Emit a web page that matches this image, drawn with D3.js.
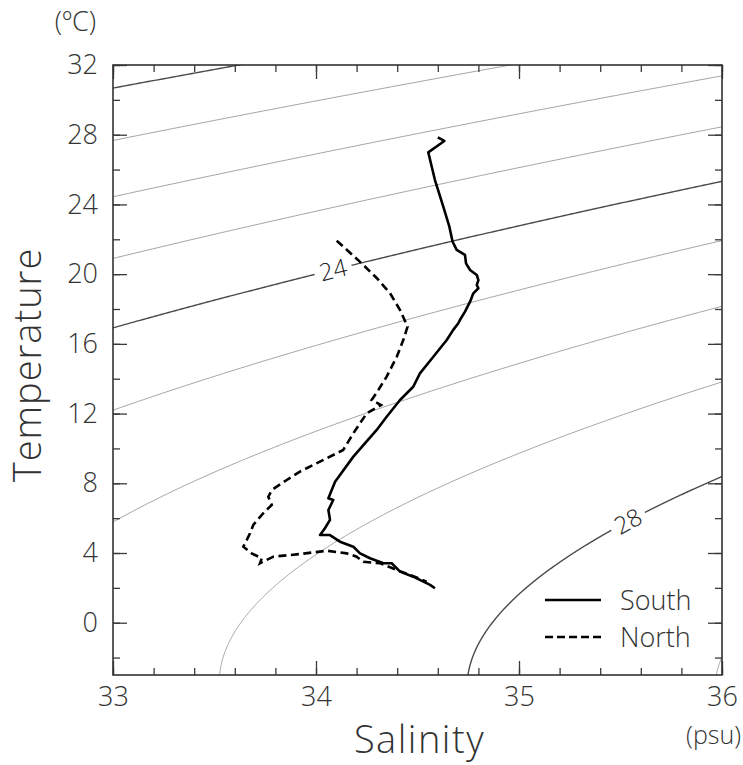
<!DOCTYPE html>
<html>
<head>
<meta charset="utf-8">
<script src="https://cdn.jsdelivr.net/npm/d3@7"></script>
<style>
	body { margin: 0; background: #fff; }
	text { font-family: 'DejaVu Sans ExtraLight', 'Open Sans', sans-serif; font-weight: 300; fill: #333; }
</style>
</head>
<body>
<svg id="chart" width="743" height="765"></svg>
<script>
// ------- DATA ------- //

// South station profile (surface -> deep)
const southSal = [34.600, 34.632, 34.553, 34.586, 34.627, 34.657, 34.673, 34.693, 34.734, 34.739,
	34.759, 34.792, 34.800, 34.792, 34.800, 34.775, 34.759, 34.734, 34.709, 34.701,
	34.676, 34.644, 34.578, 34.512, 34.479, 34.414, 34.348, 34.299, 34.184, 34.094,
	34.061, 34.085, 34.061, 34.069, 34.044, 34.020, 34.069, 34.118, 34.184, 34.217,
	34.266, 34.332, 34.373, 34.414, 34.479, 34.562, 34.586]
const southTemp = [27.85, 27.64, 26.99, 25.40, 23.87, 22.72, 21.86, 21.39, 21.10, 20.62,
	20.24, 19.95, 19.66, 19.38, 19.19, 18.90, 18.42, 17.85, 17.37, 17.18,
	16.80, 16.22, 15.26, 14.31, 13.54, 12.78, 11.82, 11.06, 9.53, 8.09,
	7.14, 7.04, 6.47, 5.90, 5.42, 5.03, 5.03, 4.65, 4.36, 3.98,
	3.70, 3.41, 3.41, 2.93, 2.64, 2.17, 1.98]

// North station profile (surface -> deep)
const northSal = [34.102, 34.225, 34.299, 34.365, 34.414, 34.451, 34.430, 34.398, 34.348, 34.307,
	34.274, 34.320, 34.250, 34.184, 34.134, 34.053, 33.921, 33.856, 33.783, 33.765,
	33.782, 33.740, 33.691, 33.675, 33.642, 33.683, 33.733, 33.724, 33.790, 33.921,
	34.053, 34.151, 34.200, 34.233, 34.315, 34.398, 34.463, 34.545]
const northTemp = [21.92, 20.62, 19.78, 18.90, 17.94, 16.99, 16.22, 15.26, 14.12, 13.35,
	12.78, 12.49, 12.02, 10.87, 9.91, 9.44, 8.67, 8.19, 7.62, 7.23,
	6.76, 6.28, 5.61, 5.13, 4.36, 3.98, 3.70, 3.41, 3.79, 3.94,
	4.13, 3.98, 3.79, 3.50, 3.41, 3.03, 2.74, 2.36]

// sigma-t isopycnals drawn in the background
const sigmaLevels = [20, 21, 22, 23, 24, 25, 26, 27, 28, 29]
const boldLevels = [20, 24, 28]
const labelLevels = [24, 28]
const labelSal = [34.084, 35.537]

const xTicks = [33, 34, 35, 36]
const xMinor = d3.range(33, 36.001, 0.2)
const yTicks = [0, 4, 8, 12, 16, 20, 24, 28, 32]
const yMinor = d3.range(-2, 32.001, 2)

// ------- LAYOUT ------- //

const margin = { left: 113, top: 65 }
const width = 609
const height = 610
const font = "'DejaVu Sans ExtraLight', 'Open Sans', sans-serif"

const svg = d3.select('#chart')

const x = d3.scaleLinear().domain([33, 36]).range([margin.left, margin.left + width])
const y = d3.scaleLinear().domain([-3, 32]).range([margin.top + height, margin.top])

// UNESCO 1980 equation of state at p = 0, returns sigma-t
function sigmaT (s, t) {
	const rw = 999.842594 + 6.793952e-2 * t - 9.095290e-3 * t * t + 1.001685e-4 * t ** 3
		- 1.120083e-6 * t ** 4 + 6.536332e-9 * t ** 5
	const a = 8.24493e-1 - 4.0899e-3 * t + 7.6438e-5 * t * t - 8.2467e-7 * t ** 3 + 5.3875e-9 * t ** 4
	const b = -5.72466e-3 + 1.0227e-4 * t - 1.6546e-6 * t * t
	const c = 4.8314e-4
	return rw + a * s + b * s ** 1.5 + c * s * s - 1000
}

// salinity where sigma-t equals level at temperature t (sigma grows with S)
function salinityAt (level, t) {
	let lo = 20, hi = 45
	for (let i = 0; i < 50; i++) {
		const mid = (lo + hi) / 2
		if (sigmaT(mid, t) < level) lo = mid
		else hi = mid
	}
	return (lo + hi) / 2
}

// temperature where sigma-t equals level at salinity s
function tempAt (level, s) {
	let lo = -3, hi = 40
	for (let i = 0; i < 50; i++) {
		const mid = (lo + hi) / 2
		if (sigmaT(s, mid) > level) lo = mid
		else hi = mid
	}
	return (lo + hi) / 2
}

svg.append('defs').append('clipPath')
	.attr('id', 'plot-clip')
	.append('rect')
	.attr('x', margin.left)
	.attr('y', margin.top)
	.attr('width', width)
	.attr('height', height)

const tSteps = d3.range(-3.5, 32.51, 0.05)
const line = d3.line().x(d => x(d[0])).y(d => y(d[1]))

const contours = svg.append('g').attr('clip-path', 'url(#plot-clip)')

contours.selectAll('path')
	.data(sigmaLevels)
	.enter().append('path')
	.attr('d', lev => line(tSteps.map(t => [salinityAt(lev, t), t])))
	.attr('fill', 'none')
	.attr('stroke', lev => boldLevels.includes(lev) ? '#4a4a4a' : '#9a9a9a')
	.attr('stroke-width', lev => boldLevels.includes(lev) ? 1.4 : 0.9)

// contour labels, with a white gap cut in the line
const labels = svg.append('g')
labelLevels.forEach((lev, i) => {
	const s = labelSal[i]
	const px = x(s), py = y(tempAt(lev, s))
	const dx = x(s + 0.02) - x(s - 0.02)
	const dy = y(tempAt(lev, s + 0.02)) - y(tempAt(lev, s - 0.02))
	const angle = Math.atan2(dy, dx) * 180 / Math.PI
	const g = labels.append('g').attr('transform', `translate(${px},${py}) rotate(${angle})`)
	g.append('rect')
		.attr('x', -19).attr('y', -10)
		.attr('width', 38).attr('height', 20)
		.attr('fill', '#fff')
	g.append('text')
		.attr('text-anchor', 'middle')
		.attr('dy', '0.36em')
		.style('font-size', '24px')
		.style('fill', '#222')
		.text(lev)
})

// ------- PROFILES ------- //

const profile = d3.line().x(d => x(d[0])).y(d => y(d[1]))

svg.append('path')
	.datum(southSal.map((s, i) => [s, southTemp[i]]))
	.attr('d', profile)
	.attr('fill', 'none')
	.attr('stroke', '#000')
	.attr('stroke-width', 2.6)
	.attr('stroke-linejoin', 'round')

svg.append('path')
	.datum(northSal.map((s, i) => [s, northTemp[i]]))
	.attr('d', profile)
	.attr('fill', 'none')
	.attr('stroke', '#000')
	.attr('stroke-width', 2.6)
	.attr('stroke-dasharray', '8,4.5')

// ------- AXES ------- //

function styleAxis (g) {
	g.select('.domain').remove()
	g.selectAll('line').attr('stroke', '#3a3a3a').attr('stroke-width', 1.3)
	g.selectAll('text').attr('fill', '#333').style('font-size', '27px')
		.style('font-family', font).style('font-weight', 300)
}

const bottom = margin.top + height
const right = margin.left + width

svg.append('g').attr('transform', `translate(0,${bottom})`)
	.call(d3.axisBottom(x).tickValues(xTicks).tickSize(-14).tickPadding(12).tickFormat(d3.format('d')))
	.call(styleAxis)
svg.append('g').attr('transform', `translate(0,${bottom})`)
	.call(d3.axisBottom(x).tickValues(xMinor).tickSize(-7).tickFormat(''))
	.call(styleAxis)
svg.append('g').attr('transform', `translate(0,${margin.top})`)
	.call(d3.axisTop(x).tickValues(xTicks).tickSize(-14).tickFormat(''))
	.call(styleAxis)
svg.append('g').attr('transform', `translate(0,${margin.top})`)
	.call(d3.axisTop(x).tickValues(xMinor).tickSize(-7).tickFormat(''))
	.call(styleAxis)

svg.append('g').attr('transform', `translate(${margin.left},0)`)
	.call(d3.axisLeft(y).tickValues(yTicks).tickSize(-14).tickPadding(15))
	.call(styleAxis)
svg.append('g').attr('transform', `translate(${margin.left},0)`)
	.call(d3.axisLeft(y).tickValues(yMinor).tickSize(-7).tickFormat(''))
	.call(styleAxis)
svg.append('g').attr('transform', `translate(${right},0)`)
	.call(d3.axisRight(y).tickValues(yTicks).tickSize(-14).tickFormat(''))
	.call(styleAxis)
svg.append('g').attr('transform', `translate(${right},0)`)
	.call(d3.axisRight(y).tickValues(yMinor).tickSize(-7).tickFormat(''))
	.call(styleAxis)

svg.append('rect')
	.attr('x', margin.left).attr('y', margin.top)
	.attr('width', width).attr('height', height)
	.attr('fill', 'none')
	.attr('stroke', '#333')
	.attr('stroke-width', 1.6)

// axis titles and units
svg.append('text')
	.attr('x', margin.left + width / 2 + 2).attr('y', 753)
	.attr('text-anchor', 'middle')
	.style('font-size', '38px')
	.style('letter-spacing', '1.5px')
	.text('Salinity')

svg.append('text')
	.attr('transform', `translate(41,${margin.top + height / 2 - 5}) rotate(-90)`)
	.attr('text-anchor', 'middle')
	.style('font-size', '38px')
	.style('letter-spacing', '1px')
	.text('Temperature')

svg.append('text')
	.attr('x', 96).attr('y', 31)
	.attr('text-anchor', 'end')
	.style('font-size', '27px')
	.text('(ºC)')

svg.append('text')
	.attr('x', 741).attr('y', 744)
	.attr('text-anchor', 'end')
	.style('font-size', '25px')
	.text('(psu)')

// ------- LEGEND ------- //

const legendItems = ['South', 'North']
const legend = svg.append('g').attr('transform', 'translate(545,600)')
legend.selectAll('line')
	.data(legendItems)
	.enter().append('line')
	.attr('x1', 0).attr('x2', 56)
	.attr('y1', (d, i) => i * 37).attr('y2', (d, i) => i * 37)
	.attr('stroke', '#000')
	.attr('stroke-width', 2.6)
	.attr('stroke-dasharray', (d, i) => i ? '8,4' : null)
legend.selectAll('text')
	.data(legendItems)
	.enter().append('text')
	.attr('x', 75)
	.attr('y', (d, i) => i * 37)
	.attr('dy', '0.36em')
	.style('font-size', '27px')
	.text(d => d)
</script>
</body>
</html>
